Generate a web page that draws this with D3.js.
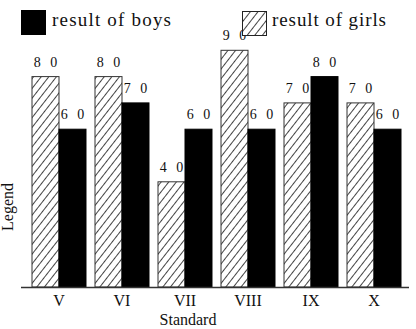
<!DOCTYPE html>
<html><head><meta charset="utf-8">
<script src="https://cdn.jsdelivr.net/npm/d3@7"></script>
<style>
html,body{margin:0;padding:0;background:#fff;}
svg{display:block;font-family:"Liberation Serif","Times New Roman",serif;}
</style></head>
<body>
<svg id="chart" width="416" height="329"></svg>
<script>
const categories = ["V", "VI", "VII", "VIII", "IX", "X"];
const girls = [80, 80, 40, 90, 70, 70];
const boys = [60, 70, 60, 60, 80, 60];
const seriesKeys = ["girls", "boys"];
const seriesNames = ["result of boys", "result of girls"];

const FONT = "'Liberation Serif', 'Times New Roman', serif";
const svg = d3.select("#chart");

const defs = svg.append("defs");
const pat = defs.append("pattern")
  .attr("id", "hatch").attr("patternUnits", "userSpaceOnUse")
  .attr("width", 6).attr("height", 6)
  .attr("patternTransform", "rotate(38)");
pat.append("rect").attr("width", 6).attr("height", 6).attr("fill", "#fff");
pat.append("line").attr("x1", 0.5).attr("y1", 0).attr("x2", 0.5).attr("y2", 6)
  .attr("stroke", "#444").attr("stroke-width", 1);

const x = d3.scaleBand().domain(categories).range([32, 401]).paddingInner(0.143).paddingOuter(0);
const xs = d3.scaleBand().domain(seriesKeys).range([0, x.bandwidth()]);
const y = d3.scaleLinear().domain([0, 100]).range([287, 24]);

const data = categories.map((c, i) => ({cat: c, girls: girls[i], boys: boys[i]}));

const groups = svg.append("g").selectAll("g").data(data).join("g")
  .attr("transform", d => `translate(${x(d.cat)},0)`);

groups.selectAll("rect").data(d => seriesKeys.map(k => ({key: k, value: d[k]}))).join("rect")
  .attr("x", d => xs(d.key))
  .attr("y", d => y(d.value))
  .attr("width", xs.bandwidth())
  .attr("height", d => y(0) - y(d.value))
  .attr("fill", d => d.key === "boys" ? "#000" : "url(#hatch)")
  .attr("stroke", d => d.key === "boys" ? "#000" : "#333")
  .attr("stroke-width", 1);

groups.selectAll("text.val").data(d => seriesKeys.map(k => ({key: k, value: d[k]}))).join("text")
  .attr("class", "val")
  .attr("x", d => xs(d.key) + xs.bandwidth() / 2 + 1.5)
  .attr("y", d => y(d.value) - 10)
  .attr("text-anchor", "middle")
  .attr("font-family", FONT)
  .attr("font-size", 14)
  .attr("letter-spacing", 3)
  .attr("fill", "#111")
  .text(d => String(d.value).split("").join(" "));

// x axis
const xAxis = d3.axisBottom(x).tickSize(0).tickPadding(7);
const ax = svg.append("g").attr("transform", `translate(0,${y(0)})`).call(xAxis);
ax.select(".domain").attr("d", "M21,0.5H409").attr("stroke", "#333").attr("stroke-width", 1.5);
ax.selectAll(".tick text").attr("font-family", FONT).attr("font-size", 16).attr("fill", "#111")
  .attr("dy", "0.75em");

svg.append("text").attr("x", 188).attr("y", 325).attr("text-anchor", "middle")
  .attr("font-family", FONT).attr("font-size", 16).attr("fill", "#111").text("Standard");

svg.append("text").attr("transform", "translate(13,207) rotate(-90)").attr("text-anchor", "middle")
  .attr("font-family", FONT).attr("font-size", 16).attr("fill", "#111").text("Legend");

// legend
svg.append("rect").attr("x", 21).attr("y", 10).attr("width", 25).attr("height", 25).attr("fill", "#000");
svg.append("text").attr("x", 52).attr("y", 26).attr("font-family", FONT).attr("font-size", 19).attr("fill", "#111")
  .attr("textLength", 119).attr("lengthAdjust", "spacing").text(seriesNames[0]);
svg.append("rect").attr("x", 242.5).attr("y", 11.5).attr("width", 24).attr("height", 24)
  .attr("fill", "url(#hatch)").attr("stroke", "#222").attr("stroke-width", 1);
svg.append("text").attr("x", 272).attr("y", 26).attr("font-family", FONT).attr("font-size", 19).attr("fill", "#111")
  .attr("textLength", 114).attr("lengthAdjust", "spacing").text(seriesNames[1]);
</script>
</body></html>
